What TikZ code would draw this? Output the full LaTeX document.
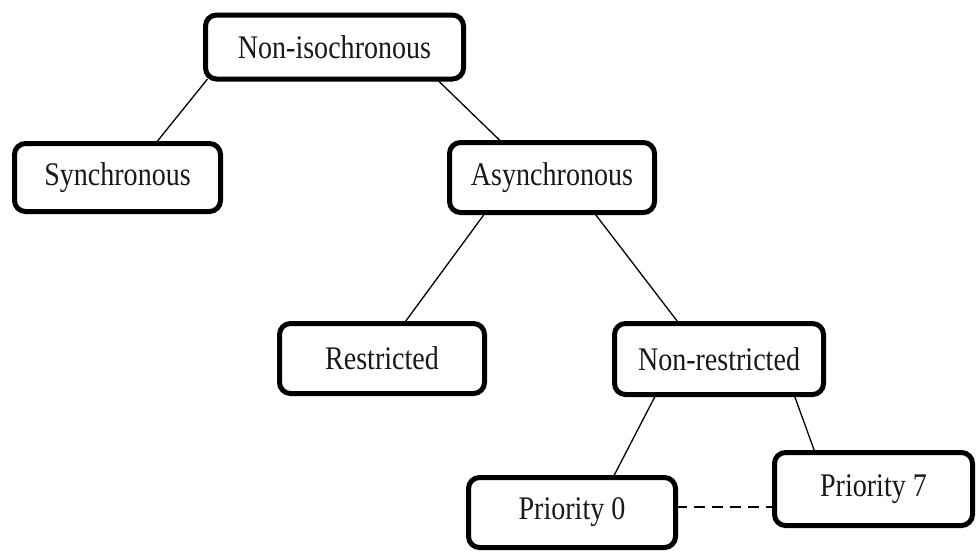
\documentclass[tikz,border=0pt]{standalone}
\usepackage{fontspec}
\setmainfont{Liberation Serif}[FakeStretch=0.85]
\usetikzlibrary{backgrounds}

\begin{document}
\begin{tikzpicture}[x=1pt,y=-1pt,
  box/.style={draw=black, line width=5pt, rounded corners=11pt, fill=white,
    inner sep=0pt, outer sep=0pt, font=\fontsize{33}{36}\selectfont, text=black!90},
  link/.style={line width=1.3pt},
  dashlink/.style={line width=1.6pt, dash pattern=on 11pt off 7pt}]
\useasboundingbox (0,0) rectangle (977,552);

% hierarchy boxes
\node[box, minimum width=258pt, minimum height=64pt] (noniso)   at (334.5,47)  {Non-isochronous};
\node[box, minimum width=206pt, minimum height=68pt] (sync)     at (117.5,177.5) {Synchronous};
\node[box, minimum width=205pt, minimum height=70pt] (async)    at (552,177.5) {Asynchronous};
\node[box, minimum width=205pt, minimum height=70pt] (restr)    at (382,358.5) {Restricted};
\node[box, minimum width=209pt, minimum height=71pt] (nonrestr) at (719,359)   {Non-restricted};
\node[box, minimum width=207pt, minimum height=70pt] (prio0)    at (572,512.5) {Priority 0};
\node[box, minimum width=198pt, minimum height=73pt] (prio7)    at (873.5,489) {Priority 7};

% connectors, kept behind the boxes
\begin{scope}[on background layer]
  \draw[link] ([xshift=-127pt]noniso.south) -- ([xshift=38pt]sync.north);
  \draw[link] ([xshift=102pt]noniso.south) -- ([xshift=-50pt]async.north);
  \draw[link] ([xshift=-66.5pt]async.south) -- ([xshift=22pt]restr.north);
  \draw[link] ([xshift=42pt]async.south) -- ([xshift=-40pt]nonrestr.north);
  \draw[link] ([xshift=-63pt]nonrestr.south) -- ([xshift=41pt]prio0.north);
  \draw[link] ([xshift=75pt]nonrestr.south) -- ([xshift=-58.5pt]prio7.north);
  \draw[dashlink] ([yshift=5.5pt]prio0.east) -- ([yshift=-18pt]prio7.west);
\end{scope}
\end{tikzpicture}
\end{document}
